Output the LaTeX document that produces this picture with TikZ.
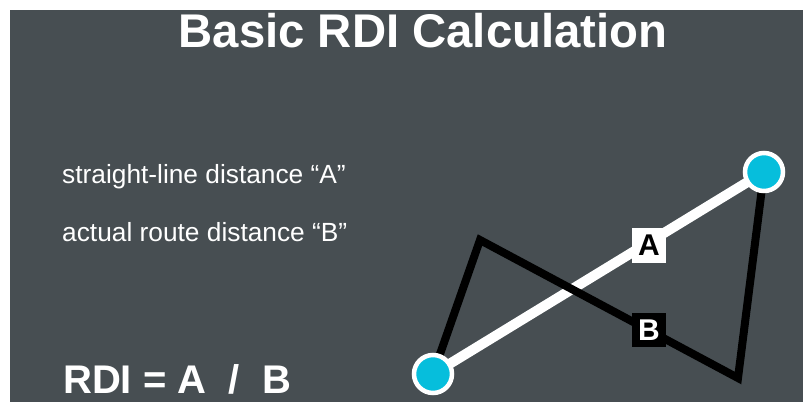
\documentclass[tikz,border=0pt]{standalone}
\usepackage{fontspec}
\setmainfont{Liberation Sans}
\definecolor{bgdark}{RGB}{71,78,82}
\definecolor{dotcyan}{RGB}{6,190,220}
\begin{document}
\begin{tikzpicture}[x=1pt,y=-1pt,
  txt/.style={text=white,inner sep=0pt,anchor=base west,font=\fontsize{26.3}{30}\selectfont},
  route/.style={line width=8pt,black,line join=miter},
  straight/.style={line width=10pt,white},
  dot/.style={circle,fill=dotcyan,draw=white,line width=4.5pt,minimum size=38pt,inner sep=0pt},
  lblA/.style={fill=white,text=black,font=\fontsize{30}{32}\selectfont\bfseries,minimum width=34pt,minimum height=35pt,inner sep=0pt},
  lblB/.style={fill=black,text=white,font=\fontsize{30}{32}\selectfont\bfseries,minimum width=34pt,minimum height=34pt,inner sep=0pt}]
\useasboundingbox (0,0) rectangle (803,402);
\fill[white] (0,0) rectangle (803,402);
\fill[bgdark] (10,10) rectangle (803,402);
\node[text=white,inner sep=0pt,anchor=base,font=\fontsize{47.3}{50}\selectfont\bfseries] (title) at (423,47) {Basic RDI Calculation};
\node[txt] (t1) at (62,183) {straight-line distance “A”};
\node[txt] (t2) at (62,241) {actual route distance “B”};
\node[txt,font=\fontsize{40}{44}\selectfont\bfseries] (rdi) at (63,393) {RDI = A\ \ /\ \ B};
\coordinate (p1c) at (433,374);
\coordinate (p2c) at (764,172);
\coordinate (c1) at (480,240);
\coordinate (c2) at (738,378);
\draw[straight] (p1c) -- (p2c);
\draw[route] (p1c) -- (c1) -- (c2) -- (p2c);
\node[lblA] (A) at (649,245) {A};
\node[lblB] (B) at (649,330) {B};
\node[dot] (p1) at (p1c) {};
\node[dot] (p2) at (p2c) {};
\end{tikzpicture}
\end{document}
